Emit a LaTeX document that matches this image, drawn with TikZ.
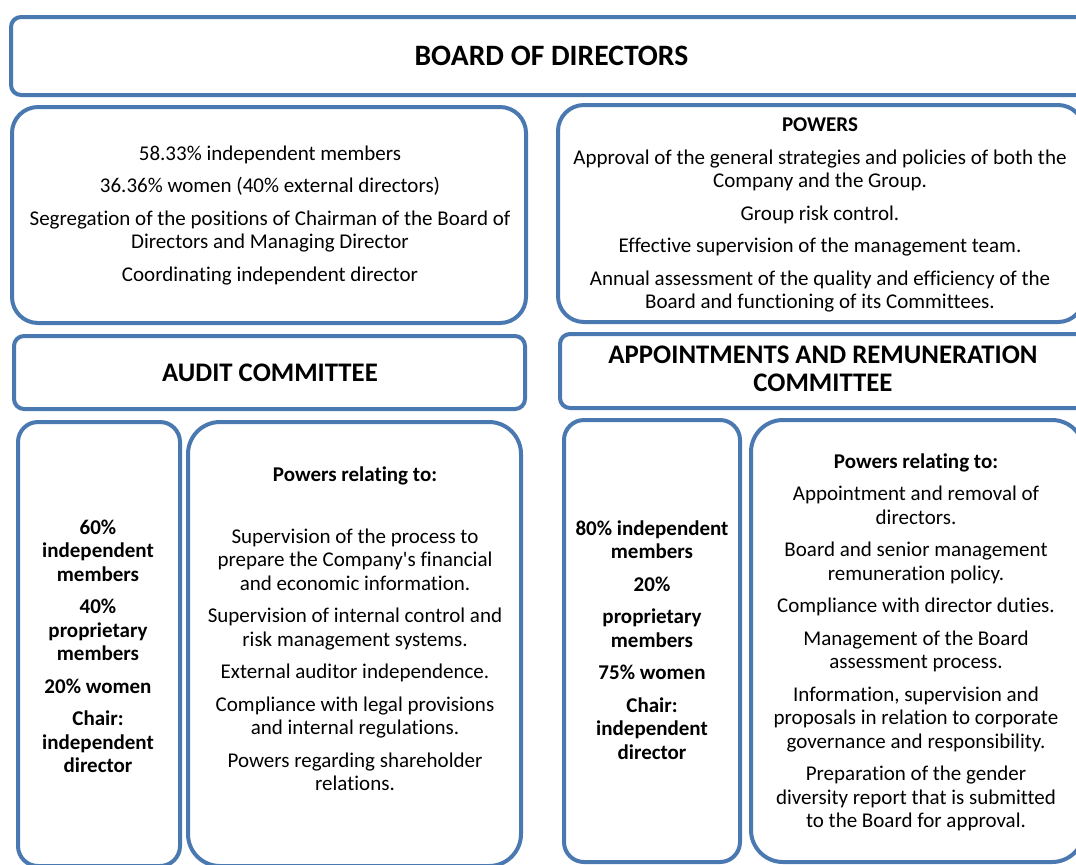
\documentclass[tikz,border=0pt]{standalone}
\usepackage{fontspec}
\setmainfont{Carlito}[Ligatures=NoCommon]
\usepackage{tikz}

\definecolor{boxblue}{RGB}{74,120,176}

\begin{document}
\begin{tikzpicture}[x=0.5pt, y=-0.5pt,
    panel/.style={draw=boxblue, line width=2pt, rounded corners=#1, inner sep=0pt, fill=white},
    panel/.default=13pt,
    txt/.style={align=center, inner sep=0pt, font=\fontsize{10.5}{11.75}\selectfont},
    head/.style={align=center, inner sep=0pt, font=\fontsize{13.4}{14}\selectfont\bfseries}]
    \def \gap {4.5pt} % space between paragraphs
    \useasboundingbox (0,0) rectangle (1076,864);
    % boxes
    \node[panel=5pt, minimum width=540.5pt, minimum height=39pt] (board) at (551.5,56) {};
    \node[panel, minimum width=257pt, minimum height=108pt] (profile) at (269,215) {};
    \node[panel, minimum width=263pt, minimum height=108.5pt] (powers) at (821,213.5) {};
    \node[panel=5pt, minimum width=255.5pt, minimum height=36.5pt] (audithead) at (269.5,372.5) {};
    \node[panel=5pt, minimum width=263pt, minimum height=37pt] (apphead) at (823,371) {};
    \node[panel=10pt, minimum width=81pt, minimum height=222pt] (auditmix) at (99,644) {};
    \node[panel=16pt, minimum width=166.5pt, minimum height=222pt] (auditpow) at (354.5,644) {};
    \node[panel=10pt, minimum width=88pt, minimum height=221pt] (appmix) at (652,641) {};
    \node[panel=16pt, minimum width=166.5pt, minimum height=221pt] (apppow) at (917.5,641) {};
    % texts
    \node[head, font=\fontsize{14.8}{16}\selectfont\bfseries] (boardtxt) at (board.center) {BOARD OF DIRECTORS};
    \node[txt] (profiletxt) at (270,215.5) {58.33\% independent members\\[\gap]
      36.36\% women (40\% external directors)\\[\gap]
      Segregation of the positions of Chairman of the Board of\\
      Directors and Managing Director\\[\gap]
      Coordinating independent director};
    \node[txt] (powerstxt) at (820,215) {\textbf{POWERS}\\[\gap]
      Approval of the general strategies and policies of both the\\
      Company and the Group.\\[\gap]
      Group risk control.\\[\gap]
      Effective supervision of the management team.\\[\gap]
      Annual assessment of the quality and efficiency of the\\
      Board and functioning of its Committees.};
    \node[head] (audittxt) at (270,373) {AUDIT COMMITTEE};
    \node[head] (apptxt) at (823,369) {APPOINTMENTS AND REMUNERATION\\COMMITTEE};
    \node[txt, font=\fontsize{10.5}{11.75}\selectfont\bfseries] (auditmixtxt) at (98,646.5) {60\%\\
      independent\\members\\[\gap]
      40\%\\proprietary\\members\\[\gap]
      20\% women\\[\gap]
      Chair:\\independent\\director};
    \node[txt] (auditpowtxt) at (355,629) {\textbf{Powers relating to:}\\[19pt]
      Supervision of the process to\\
      prepare the Company\textquotesingle s financial\\
      and economic information.\\[\gap]
      Supervision of internal control and\\
      risk management systems.\\[\gap]
      External auditor independence.\\[\gap]
      Compliance with legal provisions\\
      and internal regulations.\\[\gap]
      Powers regarding shareholder\\
      relations.};
    \node[txt, font=\fontsize{10.5}{11.75}\selectfont\bfseries] (appmixtxt) at (652,640) {80\% independent\\members\\[\gap]
      20\%\\[\gap]
      proprietary\\members\\[\gap]
      75\% women\\[\gap]
      Chair:\\independent\\director};
    \node[txt] (apppowtxt) at (916,642.5) {\textbf{Powers relating to:}\\[\gap]
      Appointment and removal of\\
      directors.\\[\gap]
      Board and senior management\\
      remuneration policy.\\[\gap]
      Compliance with director duties.\\[\gap]
      Management of the Board\\
      assessment process.\\[\gap]
      Information, supervision and\\
      proposals in relation to corporate\\
      governance and responsibility.\\[\gap]
      Preparation of the gender\\
      diversity report that is submitted\\
      to the Board for approval.};
\end{tikzpicture}
\end{document}
